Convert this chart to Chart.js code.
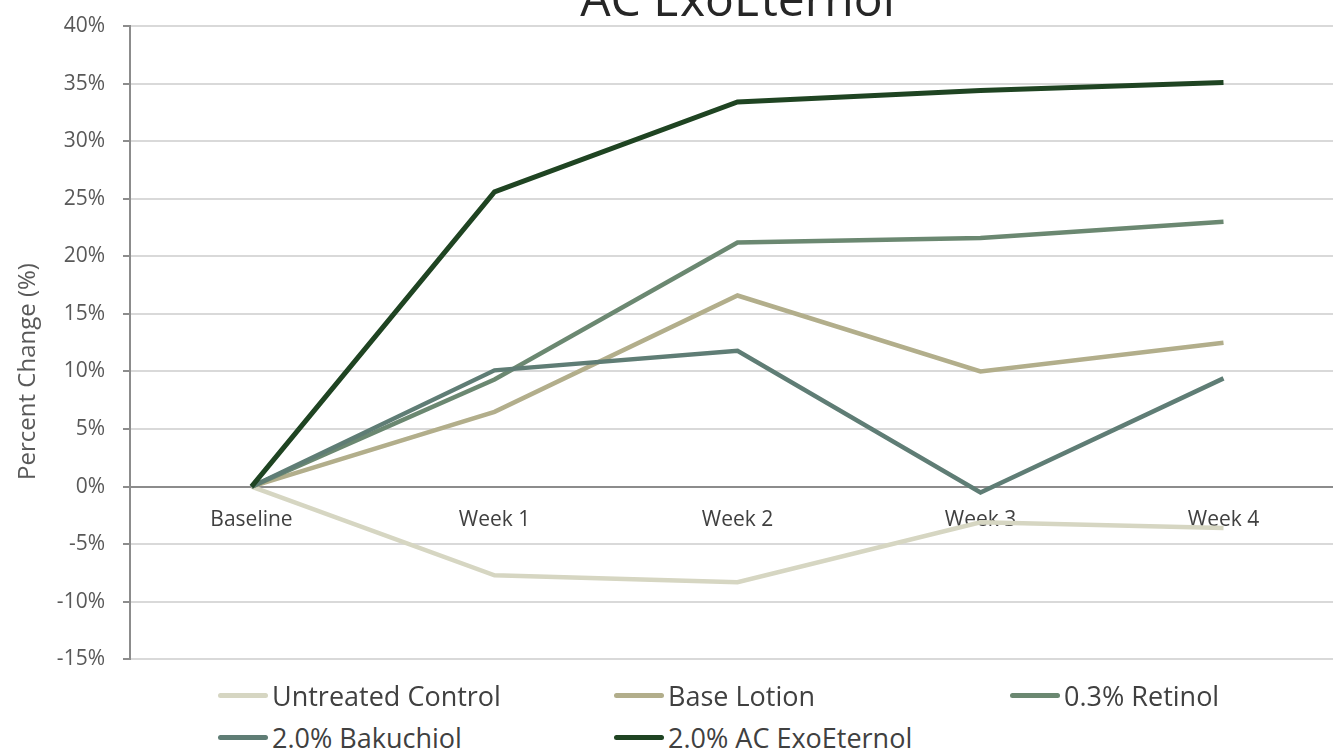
<!DOCTYPE html>
<html>
<head>
<meta charset="utf-8">
<script src="https://cdn.jsdelivr.net/npm/chart.js@4"></script>
<style>
  body { margin: 0; width: 1333px; height: 751px; overflow: hidden; background: #fff; position: relative; font-family: "Open Sans", sans-serif; }
  #wrap { position: absolute; left: 0; top: -22px; width: 1345px; height: 712px; }
  #legend { position: absolute; left: 218px; top: 677px; width: 1150px; }
  .item { position: absolute; display: flex; align-items: center; font-size: 27px; color: #404040; white-space: nowrap; }
  .swatch { display: inline-block; width: 50px; height: 5px; border-radius: 3px; margin-right: 4px; }
</style>
</head>
<body>
<div id="wrap"><canvas id="trend-chart"></canvas></div>
<div id="legend"></div>
<script>
var categories = ["Baseline", "Week 1", "Week 2", "Week 3", "Week 4"];

var seriesNames = ["Untreated Control", "Base Lotion", "0.3% Retinol", "2.0% Bakuchiol", "2.0% AC ExoEternol"];
var untreated = [0, -7.7, -8.3, -3.1, -3.6];
var baseLotion = [0, 6.5, 16.6, 10.0, 12.5];
var retinol = [0, 9.3, 21.2, 21.6, 23.0];
var bakuchiol = [0, 10.1, 11.8, -0.5, 9.4];
var exoEternol = [0, 25.6, 33.4, 34.4, 35.1];
var seriesColors = ["#d6d6c2", "#b2ae8b", "#6b8871", "#5f7d75", "#1f4422"];
var seriesWidths = [4.5, 4.5, 4.5, 4.5, 5];

var yTicks = [-15, -10, -5, 0, 5, 10, 15, 20, 25, 30, 35, 40];

var allSeries = [untreated, baseLotion, retinol, bakuchiol, exoEternol];

// y-axis title drawn by hand so it can sit a bit below the middle like the original
var axisTitle = {
  id: "axisTitle",
  afterDraw: function (chart) {
    var ctx = chart.ctx;
    var y = chart.scales.y.getPixelForValue(10);
    ctx.save();
    ctx.translate(28, y);
    ctx.rotate(-Math.PI / 2);
    ctx.font = "24px 'Open Sans'";
    ctx.fillStyle = "#595959";
    ctx.textAlign = "center";
    ctx.textBaseline = "middle";
    ctx.fillText("Percent Change (%)", 0, 0);
    ctx.restore();
  },
};

var trendChart = new Chart(document.getElementById("trend-chart"), {
  type: "line",
  data: {
    labels: categories,
    datasets: allSeries.map(function (values, i) {
      return {
        label: seriesNames[i],
        data: values,
        borderColor: seriesColors[i],
        backgroundColor: seriesColors[i],
        borderWidth: seriesWidths[i],
        pointRadius: 0,
        tension: 0,
        order: allSeries.length - i,
      };
    }),
  },
  options: {
    responsive: true,
    maintainAspectRatio: false,
    animation: false,
    layout: { padding: 0 },
    plugins: {
      legend: { display: false },
      tooltip: { enabled: false },
      title: {
        display: true,
        text: "AC ExoEternol",
        fullSize: false,
        color: "#262626",
        font: { family: "Open Sans", size: 48, weight: "normal", lineHeight: 1 },
        padding: 0,
      },
    },
    scales: {
      x: {
        position: { y: 0 },
        offset: true,
        grid: { display: false, drawTicks: false },
        border: { display: true, color: "#8c8c8c", width: 2 },
        ticks: {
          color: "#404040",
          padding: 21,
          maxRotation: 0,
          font: { family: "Open Sans", size: 21 },
        },
      },
      y: {
        min: -15,
        max: 40,
        afterBuildTicks: function (scale) {
          scale.ticks = yTicks.map(function (v) { return { value: v }; });
        },
        afterFit: function (scale) {
          scale.width = 130;
        },
        grid: { color: "#d9d9d9", lineWidth: 2, tickLength: 7, tickColor: "#8c8c8c" },
        border: { color: "#8c8c8c", width: 2 },
        ticks: {
          color: "#595959",
          padding: 18,
          font: { family: "Open Sans", size: 21 },
          callback: function (v) { return v + "%"; },
        },
      },
    },
  },
  plugins: [axisTitle],
});

// legend laid out in fixed columns like the original
var legendBox = document.getElementById("legend");
seriesNames.forEach(function (name, i) {
  var item = document.createElement("div");
  item.className = "item";
  item.style.left = (i % 3) * 396 + "px";
  item.style.top = Math.floor(i / 3) * 42 + "px";
  var sw = document.createElement("span");
  sw.className = "swatch";
  sw.style.background = seriesColors[i];
  item.appendChild(sw);
  item.appendChild(document.createTextNode(name));
  legendBox.appendChild(item);
});
</script>
</body>
</html>
